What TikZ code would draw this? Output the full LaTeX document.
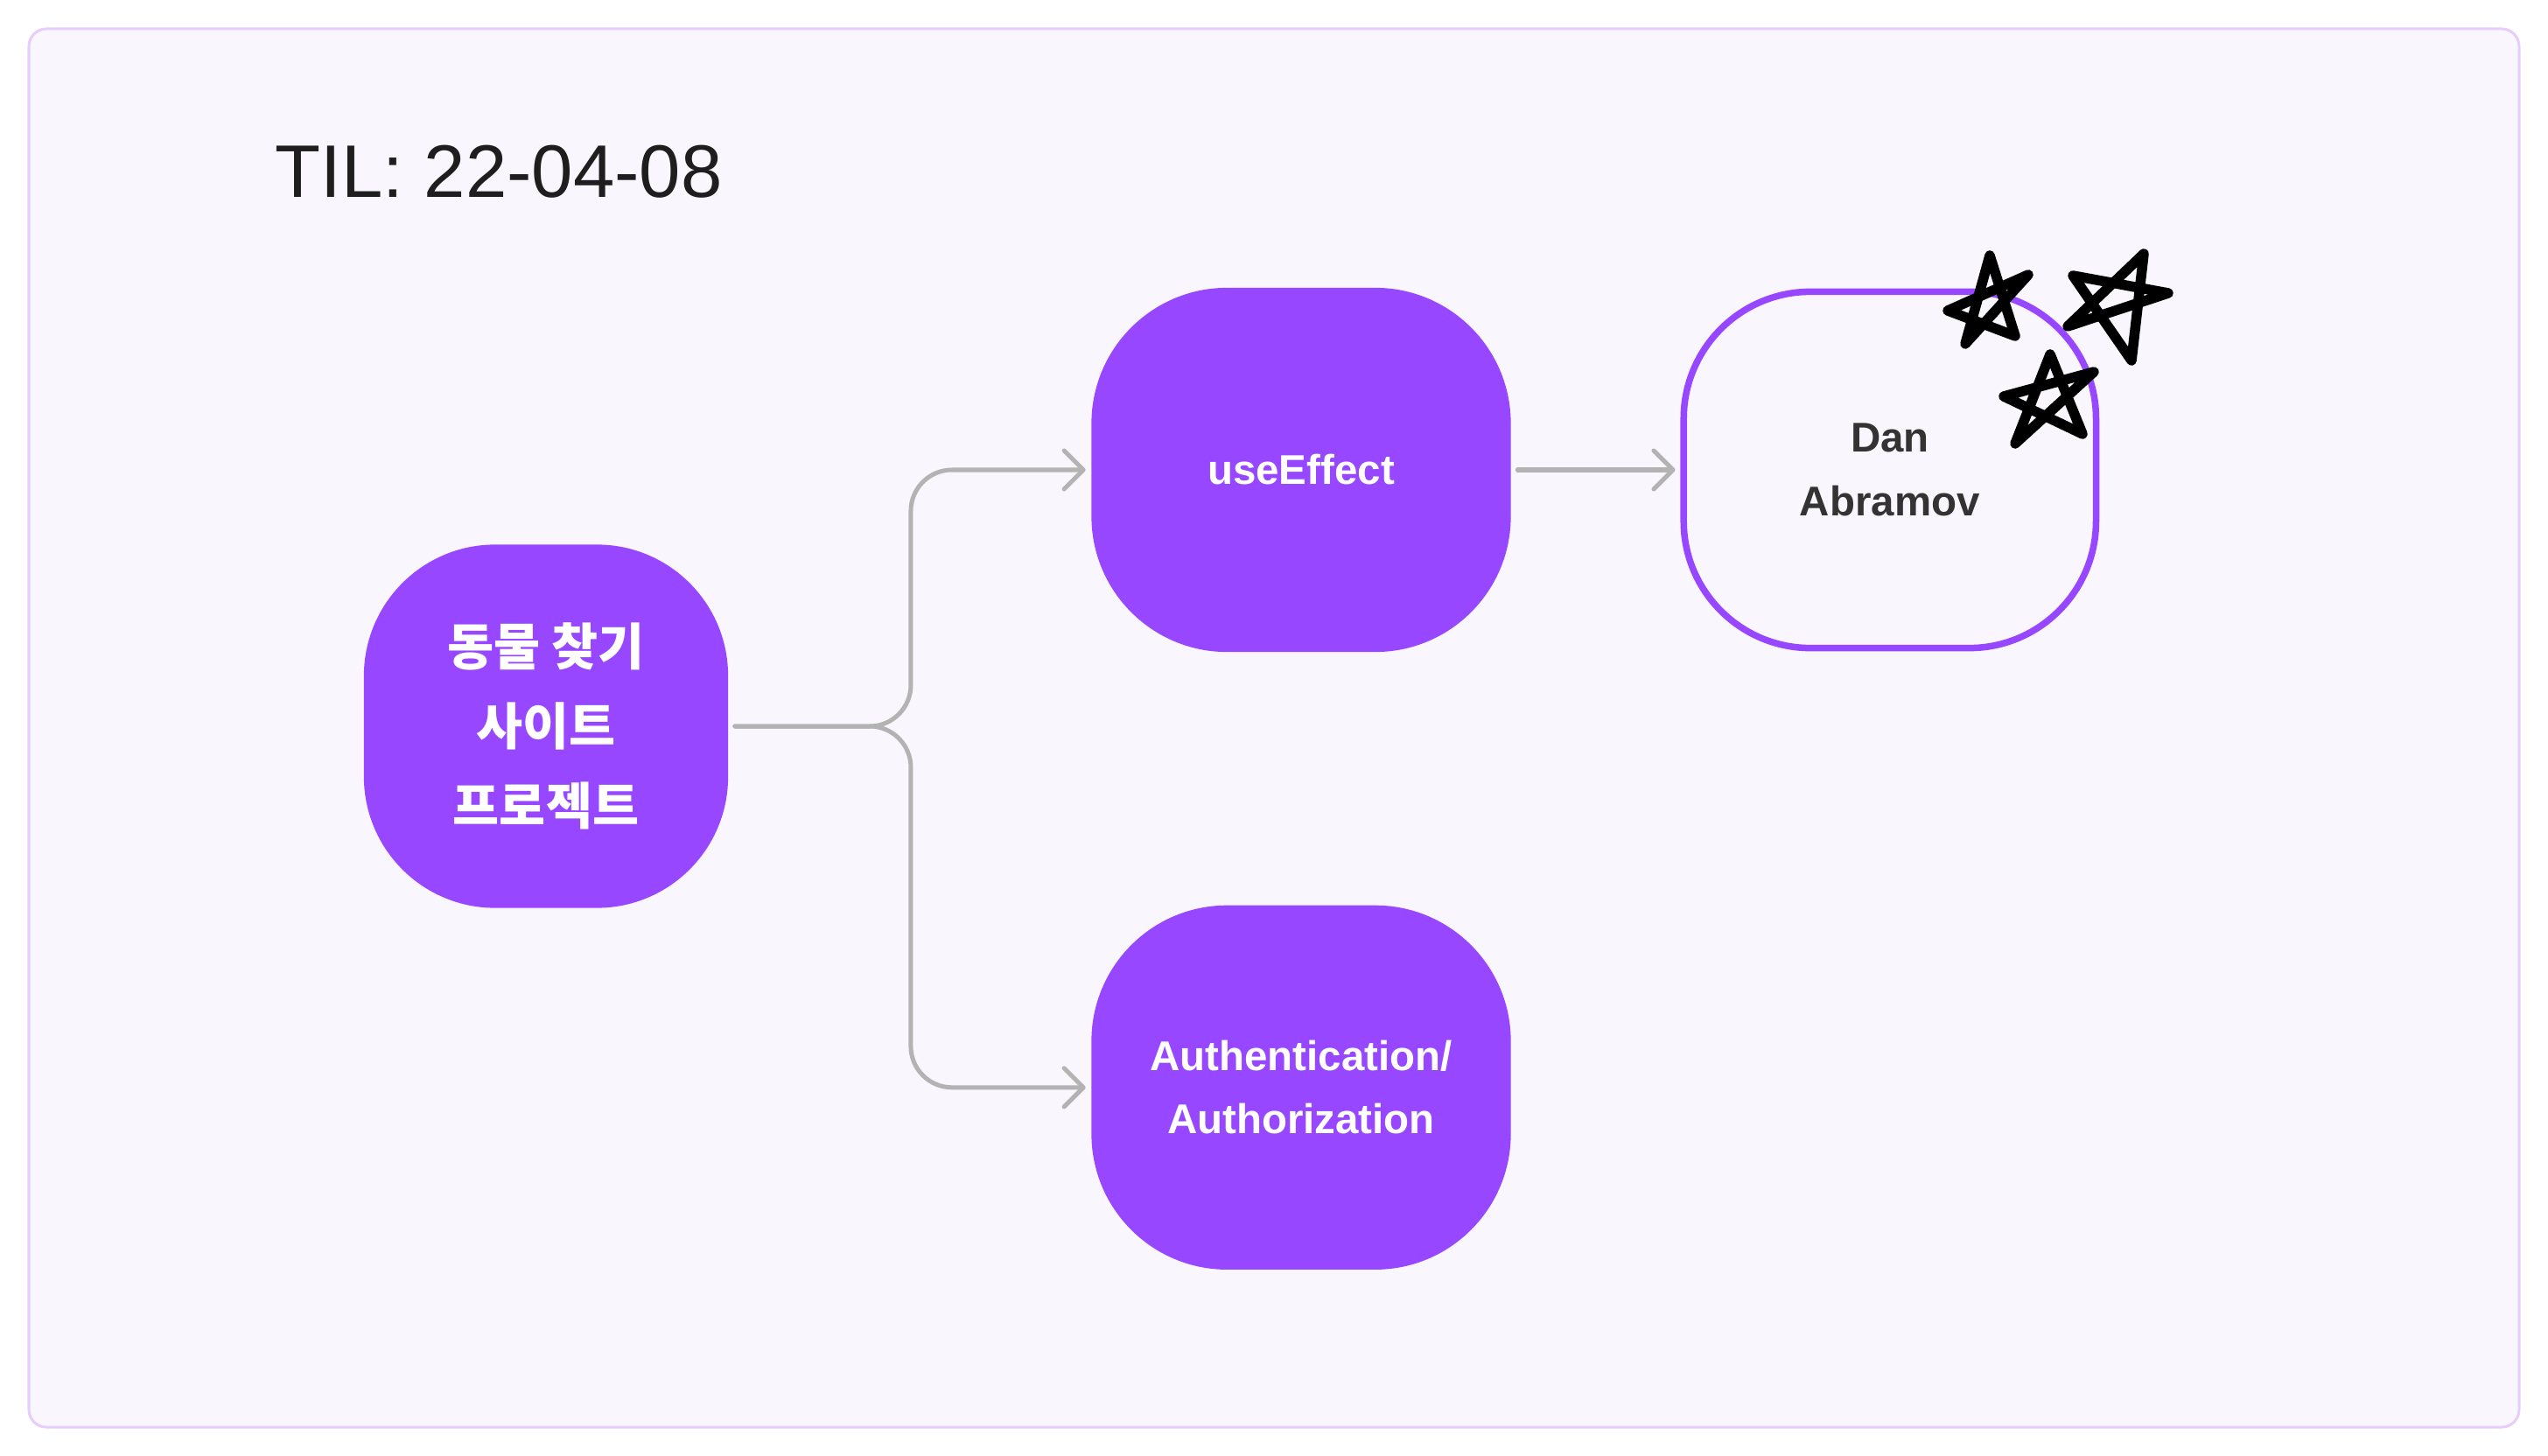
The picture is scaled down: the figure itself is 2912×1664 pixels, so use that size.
\documentclass[tikz,border=0pt]{standalone}
\usepackage{fontspec}
\setmainfont{Liberation Sans}
\newfontfamily\krfont{Noto Sans CJK KR}
\usepackage{tikz}
\usetikzlibrary{arrows.meta,positioning}
\definecolor{tilpurple}{HTML}{9747FF}
\definecolor{tilbg}{HTML}{F9F6FE}
\definecolor{tilframe}{HTML}{E6CCFF}
\definecolor{tilgray}{HTML}{B3B3B3}
\definecolor{darkgray}{HTML}{333333}
\definecolor{inkblack}{HTML}{1E1E1E}
\tikzset{
  board/.style={draw=tilframe,fill=tilbg,line width=0.03cm,rounded corners=0.2cm},
  topic/.style={rectangle,rounded corners=#1,fill=tilpurple,text=white,
    minimum width=4.79cm,minimum height=4.16cm,align=center,
    font=\fontsize{13.5}{20.5}\selectfont\bfseries},
  topic/.default=1.55cm,
  person/.style={rectangle,rounded corners=1.45cm,draw=tilpurple,line width=0.075cm,
    minimum width=4.71cm,minimum height=4.07cm,align=center,text=darkgray,
    font=\fontsize{13.5}{20.8}\selectfont\bfseries},
  title/.style={text=inkblack,inner sep=0pt,font=\fontsize{24.2}{29}\selectfont},
  link/.style={-{Straight Barb[length=2.2mm,width=4.4mm,round]},line width=0.05cm,
    draw=tilgray,line cap=round,rounded corners=0.47cm,
    shorten <=0.07cm,shorten >=0.06cm},
  doodle/.style={draw=black,line width=0.115cm,line join=round,line cap=round}
}

\begin{document}
\begin{tikzpicture}[x=0.01cm,y=-0.01cm]
\useasboundingbox (0,0) rectangle (2912,1664);
\draw[board] (33,33) rectangle (2879,1631);
\node[title,anchor=base west] (til) at (314,226) {TIL: 22-04-08};
\node[topic=1.5cm,minimum width=4.16cm,minimum height=4.15cm,
  font=\krfont\fontsize{16.4}{25.9}\selectfont\bfseries] (project) at (624,830)
  {동물 찾기\\사이트\\프로젝트};
\node[topic] (useeffect) at (1487,537) {useEffect};
\node[topic,below=2.88cm of useeffect] (auth) {Authentication/\\Authorization};
\node[person,right=1.93cm of useeffect] (dan) {Dan\\Abramov};
\coordinate (fork) at ([xshift=2.08cm]project.east);
\draw[link] (project.east) -- (fork) |- (useeffect.west);
\draw[link] (project.east) -- (fork) |- (auth.west);
\draw[link,rounded corners=0pt] (useeffect.east) -- (dan.west);
% stars
\draw[doodle] (2274,292) -- (2303,384) -- (2226,355) -- (2318,314) -- (2246,393) -- cycle;
\draw[doodle] (2450,290) -- (2436,412) -- (2369,315) -- (2478,335) -- (2363,373) -- cycle;
\draw[doodle] (2343,405) -- (2380,496) -- (2290,453) -- (2393,425) -- (2303,507) -- cycle;
\end{tikzpicture}
\end{document}
